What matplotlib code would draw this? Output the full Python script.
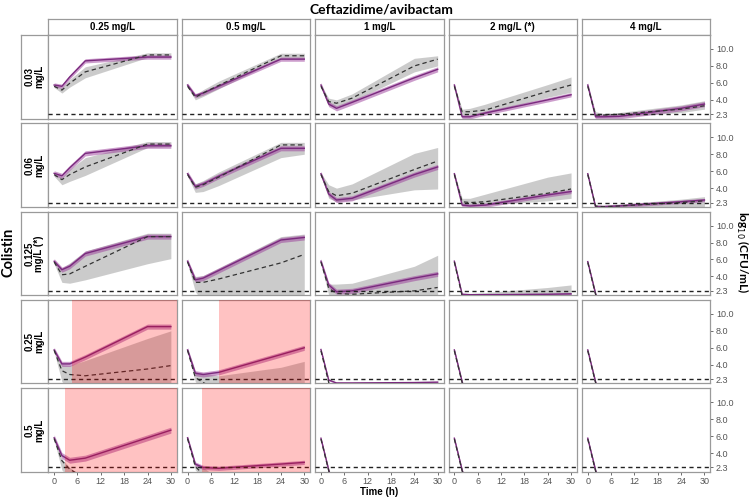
import matplotlib.pyplot as plt
import numpy as np

plt.rcParams['font.family'] = ['Liberation Sans', 'DejaVu Sans']

# sampling times (h)
T = [0, 2, 4, 8, 24, 30]

caz_labels = ["0.25 mg/L", "0.5 mg/L", "1 mg/L", "2 mg/L (*)", "4 mg/L"]
col_labels = ["0.03\nmg/L", "0.06\nmg/L", "0.125\nmg/L (*)", "0.25\nmg/L", "0.5\nmg/L"]

# panels where bacteria were killed below detection straight away
drop_obs = [5.65, 1.9, -1, -1, -1, -1]
drop_lo = [5.5, 1.6, -1, -1, -1, -1]
drop_hi = [5.85, 2.2, -1, -1, -1, -1]
drop_pred = [5.75, 2.0, -1, -1, -1, -1]

# observed median (dashed) and its band, one list per colistin row, one entry per CAZ column
obs1 = [[5.6, 5.15, 5.95, 7.3, 9.3, 9.3], [5.6, 4.3, 4.8, 5.7, 9.2, 9.2], [5.6, 3.8, 3.6, 4.2, 8.0, 8.8],
        [5.6, 2.6, 2.6, 2.8, 5.0, 5.75], [5.6, 2.2, 2.2, 2.3, 2.9, 3.3]]
lo1 = [[5.45, 4.8, 5.5, 6.6, 9.0, 9.0], [5.45, 4.0, 4.4, 5.3, 8.9, 8.9], [5.45, 3.3, 3.2, 3.8, 7.3, 8.0],
       [5.45, 2.2, 2.2, 2.4, 4.3, 4.9], [5.45, 2.0, 2.0, 2.0, 2.5, 2.9]]
hi1 = [[5.75, 5.45, 6.4, 7.9, 9.55, 9.55], [5.75, 4.6, 5.2, 6.2, 9.5, 9.5], [5.8, 4.2, 4.0, 4.7, 8.9, 9.2],
       [5.8, 2.9, 3.0, 3.5, 5.8, 6.7], [5.8, 2.6, 2.4, 2.5, 3.4, 3.9]]

obs2 = [[5.6, 5.0, 5.6, 6.5, 9.2, 9.2], [5.6, 4.1, 4.4, 5.3, 9.1, 9.1], [5.6, 3.6, 3.1, 3.4, 6.2, 7.2],
        [5.6, 2.4, 2.3, 2.4, 3.4, 3.9], [5.6, 1.9, 1.8, 1.9, 2.3, 2.5]]
lo2 = [[5.4, 4.4, 4.8, 5.5, 8.8, 8.9], [5.4, 3.5, 3.6, 4.3, 7.6, 8.0], [5.4, 2.8, 2.4, 2.6, 3.8, 3.9],
       [5.4, 2.0, 2.0, 2.0, 2.5, 2.8], [5.4, 1.7, 1.7, 1.7, 1.8, 1.8]]
hi2 = [[5.8, 5.3, 6.2, 7.6, 9.5, 9.5], [5.8, 4.5, 4.9, 5.9, 9.4, 9.4], [5.8, 4.4, 4.0, 4.5, 8.1, 8.8],
       [5.8, 2.8, 2.8, 3.3, 5.3, 5.8], [5.8, 2.1, 2.0, 2.1, 2.7, 3.0]]

obs3 = [[5.7, 4.2, 4.3, 5.2, 8.7, 8.7], [5.7, 3.3, 3.3, 3.7, 5.6, 6.6], [5.7, 2.6, 2.0, 1.9, 2.3, 2.7],
        [5.7, 1.7, 1.0, 1.0, 1.0, 1.0], drop_obs]
lo3 = [[5.5, 3.3, 3.2, 3.6, 5.5, 6.1], [5.5, 2.2, 1.0, 1.0, 1.0, 1.0], [5.5, 1.8, 1.0, 1.0, 1.0, 1.0],
       [5.5, 1.5, 1.0, 1.0, 1.0, 1.0], drop_lo]
hi3 = [[5.9, 5.0, 5.6, 7.0, 9.1, 9.1], [5.9, 4.0, 4.1, 5.0, 8.7, 9.0], [5.9, 3.1, 3.1, 3.2, 5.2, 6.5],
       [5.9, 2.0, 2.0, 2.1, 2.7, 3.0], drop_hi]

obs4 = [[5.7, 3.3, 2.85, 2.7, 3.5, 3.9], [5.7, 2.5, 1.9, 1.0, 1.0, 1.0], drop_obs, drop_obs, drop_obs]
lo4 = [[5.5, 2.0, 1.0, 1.0, 1.0, 1.0], [5.5, 2.0, 1.0, 1.0, 1.0, 1.0], drop_lo, drop_lo, drop_lo]
hi4 = [[5.9, 4.0, 3.9, 4.5, 7.1, 8.0], [5.9, 3.2, 3.0, 2.7, 3.7, 4.4], drop_hi, drop_hi, drop_hi]

obs5 = [[5.7, 3.1, 2.1, 1.0, 1.0, 1.0], [5.7, 2.4, 1.5, 1.0, 1.0, 1.0], drop_obs, drop_obs, drop_obs]
lo5 = [[5.5, 2.0, 1.0, 1.0, 1.0, 1.0], [5.5, 2.0, 1.0, 1.0, 1.0, 1.0], drop_lo, drop_lo, drop_lo]
hi5 = [[5.9, 3.3, 2.3, 1.0, 1.0, 1.0], [5.9, 2.8, 2.3, 1.0, 1.0, 1.0], drop_hi, drop_hi, drop_hi]

# model prediction (purple line) per row
pred1 = [[5.75, 5.6, 6.7, 8.6, 9.05, 9.05], [5.75, 4.5, 4.8, 5.6, 8.8, 8.8], [5.75, 3.5, 3.0, 3.7, 6.6, 7.6],
         [5.75, 2.0, 2.0, 2.45, 4.0, 4.6], [5.75, 2.0, 2.0, 2.05, 3.0, 3.5]]
pred2 = [[5.75, 5.45, 6.4, 8.1, 9.0, 9.0], [5.7, 4.2, 4.5, 5.4, 8.7, 8.7], [5.7, 3.3, 2.6, 2.8, 5.6, 6.5],
         [5.7, 2.0, 1.9, 2.0, 3.2, 3.6], [5.7, 1.8, 1.8, 1.9, 2.4, 2.6]]
pred3 = [[5.8, 4.8, 5.2, 6.7, 8.7, 8.7], [5.8, 3.6, 3.8, 4.7, 8.3, 8.6], [5.8, 3.0, 2.2, 2.3, 3.8, 4.3],
         [5.8, 1.9, 1.85, 1.85, 1.9, 1.95], drop_pred]
pred4 = [[5.75, 4.1, 4.1, 4.9, 8.5, 8.5], [5.75, 3.0, 2.85, 3.1, 5.2, 6.0], [5.8, 2.2, 1.85, 1.85, 1.9, 1.95],
         drop_pred, drop_pred]
pred5 = [[5.8, 3.7, 3.15, 3.4, 5.8, 6.7], [5.8, 2.7, 2.3, 2.2, 2.7, 2.9], drop_pred, drop_pred, drop_pred]

pred_w = [[0.25, 0.25, 0.3, 0.25, 0.3],
          [0.3, 0.3, 0.3, 0.25, 0.2],
          [0.3, 0.3, 0.3, 0.12, 0.15],
          [0.3, 0.3, 0.1, 0.15, 0.15],
          [0.35, 0.25, 0.15, 0.15, 0.15]]

# regrowth shading (start time, h) for (row, col)
regrowth = {(3, 0): 4.6, (3, 1): 8.0, (4, 0): 2.7, (4, 1): 3.8}

obs_rows = [obs1, obs2, obs3, obs4, obs5]
lo_rows = [lo1, lo2, lo3, lo4, lo5]
hi_rows = [hi1, hi2, hi3, hi4, hi5]
pred_rows = [pred1, pred2, pred3, pred4, pred5]

W, H = 749, 500
fig = plt.figure(figsize=(W / 100, H / 100), dpi=100)


def px_axes(x0, y0, x1, y1):
    return fig.add_axes([x0 / W, 1 - y1 / H, (x1 - x0) / W, (y1 - y0) / H])


def strip(ax, text, rot=0):
    ax.set_xticks([])
    ax.set_yticks([])
    for s in ax.spines.values():
        s.set_color("#9a9a9a")
        s.set_linewidth(0.9)
    ax.text(0.5, 0.5, text, ha="center", va="center", rotation=rot, fontsize=7,
            fontweight="bold", transform=ax.transAxes, linespacing=1.0)


col_x = [48.3 + 133.4 * k for k in range(5)]
row_y = [35 + 88.3 * k for k in range(5)]
pw, ph = 128.4, 83.5
grey = "#999999"
purple = "#9b3d9b"
purple_line = "#7a2a7e"

for c in range(5):
    strip(px_axes(col_x[c], 19.3, col_x[c] + pw, 34.6), caz_labels[c])
for r in range(5):
    strip(px_axes(20.7, row_y[r], 47.8, row_y[r] + ph), col_labels[r], rot=90)

for r in range(5):
    for c in range(5):
        ax = px_axes(col_x[c], row_y[r], col_x[c] + pw, row_y[r] + ph)
        t = np.array(T)
        obs = np.array(obs_rows[r][c])
        lo = np.array(lo_rows[r][c])
        hi = np.array(hi_rows[r][c])
        pred = np.array(pred_rows[r][c])
        w = pred_w[r][c]

        ax.fill_between(t, lo, hi, color=grey, alpha=0.5, lw=0, zorder=1)
        ax.fill_between(t, pred - w, pred + w, color=purple, alpha=0.5, lw=0, zorder=2)
        ax.plot(t, pred, color=purple_line, lw=1.0, zorder=3)
        ax.plot(t, obs, color="#333333", lw=0.9, dashes=(3.5, 2.5), zorder=4)
        ax.axhline(2.3, color="#222222", lw=1.0, dashes=(3, 2.5), zorder=4)
        if (r, c) in regrowth:
            ax.axvspan(regrowth[(r, c)], 40, color="red", alpha=0.24, lw=0, zorder=5)

        ax.set_xlim(-1.5, 31.5)
        ax.set_ylim(1.8, 11.65)
        for s in ax.spines.values():
            s.set_color("#9a9a9a")
            s.set_linewidth(0.9)

        if r == 4:
            ax.set_xticks([0, 6, 12, 18, 24, 30])
            ax.tick_params(axis="x", labelsize=6.5, colors="#555555", length=2.5, width=0.6, pad=1.5)
        else:
            ax.set_xticks([])
        if c == 4:
            ax.yaxis.tick_right()
            ax.set_yticks([2.3, 4, 6, 8, 10])
            ax.set_yticklabels(["2.3", "4.0", "6.0", "8.0", "10.0"])
            ax.tick_params(axis="y", labelsize=6.5, colors="#555555", length=2.5, width=0.6, pad=1.5)
        else:
            ax.set_yticks([])

fig.text(381 / W, 1 - 9 / H, "Ceftazidime/avibactam", ha="center", va="center",
         fontsize=10, fontweight="bold", family=["Lato", "DejaVu Sans"])
fig.text(379 / W, 1 - 492 / H, "Time (h)", ha="center", va="center", fontsize=7, fontweight="bold")
fig.text(9 / W, 1 - 252 / H, "Colistin", ha="center", va="center", rotation=90,
         fontsize=10.5, fontweight="bold", family=["Lato", "DejaVu Sans"])
fig.text(742 / W, 1 - 252 / H, "log$_{10}$ (CFU/mL)", ha="center", va="center", rotation=270,
         fontsize=8.5, fontweight="bold", family=["Lato", "DejaVu Sans"])

fig.savefig("out.png", dpi=100)
